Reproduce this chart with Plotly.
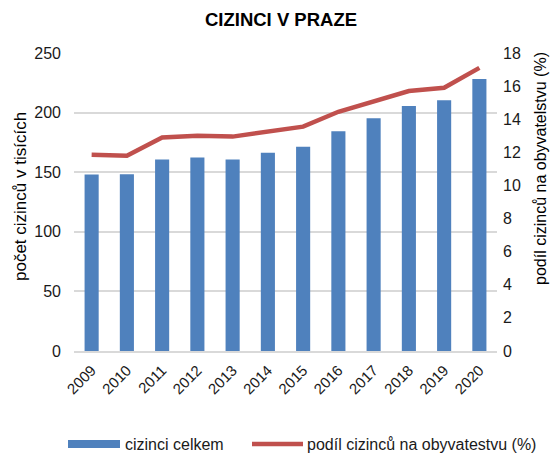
import plotly.graph_objects as go

years = ["2009", "2010", "2011", "2012", "2013", "2014", "2015", "2016", "2017", "2018", "2019", "2020"]
cizinci = [148.1, 148.3, 160.7, 162.4, 160.7, 166.3, 171.3, 184.3, 195.2, 205.5, 210.3, 228.2]
podil = [11.85, 11.8, 12.9, 13.0, 12.95, 13.25, 13.55, 14.45, 15.1, 15.7, 15.9, 17.1]

BAR_NAME = "cizinci celkem"
LINE_NAME = "podíl cizinců na obyvatestvu (%)"
BAR_COLOR = "#4F81BD"
LINE_COLOR = "#C0504D"

W, H = 552, 453
ML, MR, MT, MB = 74, 55, 53, 102
PW, PH = W - ML - MR, H - MT - MB


def px(x):
    return (x - ML) / PW


def py(y):
    return (H - MB - y) / PH


fig = go.Figure()
fig.add_trace(go.Bar(x=years, y=cizinci, name=BAR_NAME, marker=dict(color=BAR_COLOR, line=dict(width=0)),
                     yaxis="y"))
fig.add_trace(go.Scatter(x=years, y=podil, name=LINE_NAME, mode="lines",
                         line=dict(color=LINE_COLOR, width=4.5), yaxis="y2"))

font = "Liberation Sans, Arial, sans-serif"
txt = "#1a1a1a"
fig.update_layout(
    width=W, height=H,
    margin=dict(l=ML, r=MR, t=MT, b=MB, autoexpand=False),
    paper_bgcolor="white", plot_bgcolor="white",
    font=dict(family=font, size=15, color=txt),
    title=dict(text="<b>CIZINCI V PRAZE</b>", x=281 / W, xanchor="center", y=1 - 20 / H, yanchor="middle",
               font=dict(family=font, size=18.5, color="#000000")),
    bargap=0.6,
    showlegend=False,
    xaxis=dict(tickangle=-45, showgrid=False, showline=True, linecolor="#d9d9d9", linewidth=1.5,
               tickfont=dict(size=15, color=txt), ticks="", automargin=False, ticklabelstandoff=3),
    yaxis=dict(range=[0, 250], dtick=50, showgrid=True, gridcolor="#d9d9d9", gridwidth=1.5,
               zeroline=False, ticks="", tickfont=dict(size=16, color=txt), automargin=False,
               ticklabelstandoff=12),
    yaxis2=dict(range=[0, 18], dtick=2, overlaying="y", side="right", showgrid=False, zeroline=False,
                ticks="", tickfont=dict(size=16, color=txt), automargin=False, ticklabelstandoff=5),
)

# axis titles
fig.add_annotation(text="počet cizinců v tisících", xref="paper", yref="paper", x=px(20), y=py(197),
                   textangle=-90, showarrow=False, xanchor="center", yanchor="middle",
                   font=dict(size=17, color="#000000"))
fig.add_annotation(text="podíl cizinců na obyvatelstvu (%)", xref="paper", yref="paper", x=px(540), y=py(169),
                   textangle=-90, showarrow=False, xanchor="center", yanchor="middle",
                   font=dict(size=16, color="#000000"))

# legend
LEG_Y = 444
fig.add_shape(type="rect", xref="paper", yref="paper", x0=px(68), x1=px(120), y0=py(LEG_Y + 4), y1=py(LEG_Y - 4),
              fillcolor=BAR_COLOR, line=dict(width=0))
fig.add_annotation(text=BAR_NAME, xref="paper", yref="paper", x=px(123), y=py(LEG_Y), showarrow=False,
                   xanchor="left", yanchor="middle", font=dict(size=16, color=txt))
fig.add_shape(type="line", xref="paper", yref="paper", x0=px(252), x1=px(303), y0=py(LEG_Y), y1=py(LEG_Y),
              line=dict(color=LINE_COLOR, width=4.5))
fig.add_annotation(text=LINE_NAME, xref="paper", yref="paper", x=px(305), y=py(LEG_Y), showarrow=False,
                   xanchor="left", yanchor="middle", font=dict(size=16, color=txt))

fig.write_html("out.html", config={"displayModeBar": False},
               post_script="document.body.style.margin='0';document.body.style.overflow='hidden';")
